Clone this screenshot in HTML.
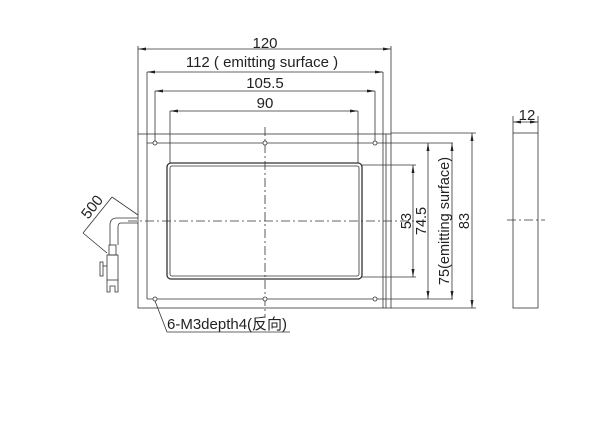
<!DOCTYPE html>
<html><head><meta charset="utf-8"><style>html,body{margin:0;padding:0;background:#fff}svg{display:block}</style></head><body>
<svg width="615" height="428" viewBox="0 0 615 428" xmlns="http://www.w3.org/2000/svg" font-family="Liberation Sans, Noto Sans CJK SC, sans-serif" font-size="15" fill="#222">
<defs><marker id="a" markerWidth="8" markerHeight="6" refX="8" refY="3" orient="auto-start-reverse" markerUnits="userSpaceOnUse"><path d="M0,1.5 L8,3 L0,4.5z" fill="#222"/></marker></defs>
<g stroke="#333" stroke-width="0.8" fill="none">
<rect x="138" y="134" width="253" height="174"/>
<line x1="147" y1="143" x2="453" y2="143"/>
<line x1="147" y1="299" x2="453" y2="299"/>
<line x1="147" y1="72" x2="147" y2="299"/>
<line x1="383" y1="72" x2="383" y2="308"/>
<line x1="386" y1="134" x2="386" y2="308"/>
<rect x="167" y="163" width="195" height="116" rx="4" stroke-width="1.3"/>
<rect x="170" y="166" width="189" height="110" rx="2"/>
<line x1="362" y1="165" x2="416" y2="165"/>
<line x1="362" y1="277" x2="416" y2="277"/>
<line x1="138" y1="46" x2="138" y2="134"/>
<line x1="391" y1="46" x2="391" y2="134"/>
<line x1="155" y1="91" x2="155" y2="143"/>
<line x1="375" y1="91" x2="375" y2="143"/>
<line x1="170" y1="111" x2="170" y2="163"/>
<line x1="358" y1="111" x2="358" y2="163"/>
<line x1="391" y1="133" x2="476" y2="133"/>
<line x1="391" y1="308" x2="476" y2="308"/>
<line x1="138" y1="49" x2="391" y2="49" marker-start="url(#a)" marker-end="url(#a)"/>
<line x1="147" y1="72" x2="383" y2="72" marker-start="url(#a)" marker-end="url(#a)"/>
<line x1="155" y1="91" x2="375" y2="91" marker-start="url(#a)" marker-end="url(#a)"/>
<line x1="170" y1="111" x2="358" y2="111" marker-start="url(#a)" marker-end="url(#a)"/>
<line x1="413" y1="165" x2="413" y2="277" marker-start="url(#a)" marker-end="url(#a)"/>
<line x1="428" y1="143" x2="428" y2="299" marker-start="url(#a)" marker-end="url(#a)"/>
<line x1="452" y1="143" x2="452" y2="299" marker-start="url(#a)" marker-end="url(#a)"/>
<line x1="472" y1="133" x2="472" y2="308" marker-start="url(#a)" marker-end="url(#a)"/>
<line x1="128" y1="221" x2="420" y2="221" stroke-dasharray="9,3,2,3"/>
<line x1="265" y1="127" x2="265" y2="318" stroke-dasharray="9,3,2,3"/>
<g fill="#fff"><circle cx="155" cy="143" r="2"/><circle cx="265" cy="143" r="2"/><circle cx="375" cy="143" r="2"/><circle cx="155" cy="299" r="2"/><circle cx="265" cy="299" r="2"/><circle cx="375" cy="299" r="2"/></g>
<polyline points="155,301 167,332 290,332"/>
<rect x="513" y="133" width="25" height="175"/>
<line x1="513" y1="116" x2="513" y2="133"/><line x1="538" y1="116" x2="538" y2="133"/>
<line x1="513" y1="122" x2="538" y2="122" marker-start="url(#a)" marker-end="url(#a)"/>
<line x1="507" y1="220" x2="545" y2="220" stroke-dasharray="9,3,2,3"/>
<path d="M138,218 H117 Q110,218 110,225 V245"/>
<path d="M138,223 H121 Q118,223 118,227 V245"/>
<rect x="109" y="245" width="7" height="10"/>
<rect x="107" y="255" width="11" height="25"/>
<path d="M107,280 V292 H110 V286 H115 V292 H118 V280"/>
<rect x="100" y="262" width="3" height="14"/>
<line x1="103" y1="266" x2="107" y2="266"/>
<line x1="83" y1="233" x2="112" y2="197"/>
<line x1="112" y1="197" x2="138" y2="215"/>
<line x1="83" y1="233" x2="107" y2="253"/>
</g>
<g text-anchor="middle">
<text x="265" y="48">120</text>
<text x="262" y="67">112 ( emitting surface )</text>
<text x="265" y="88">105.5</text>
<text x="265" y="108">90</text>
<text x="527" y="120">12</text>
<g font-size="14.5">
<text transform="translate(411,221) rotate(-90)">53</text>
<text transform="translate(426,221) rotate(-90)">74.5</text>
<text transform="translate(449,221) rotate(-90)">75(emitting surface)</text>
<text transform="translate(469,221) rotate(-90)">83</text>
</g>
<text transform="translate(96,210) rotate(-52)">500</text>
</g>
<text x="167" y="329">6-M3depth4(反向)</text>
</svg>
</body></html>
